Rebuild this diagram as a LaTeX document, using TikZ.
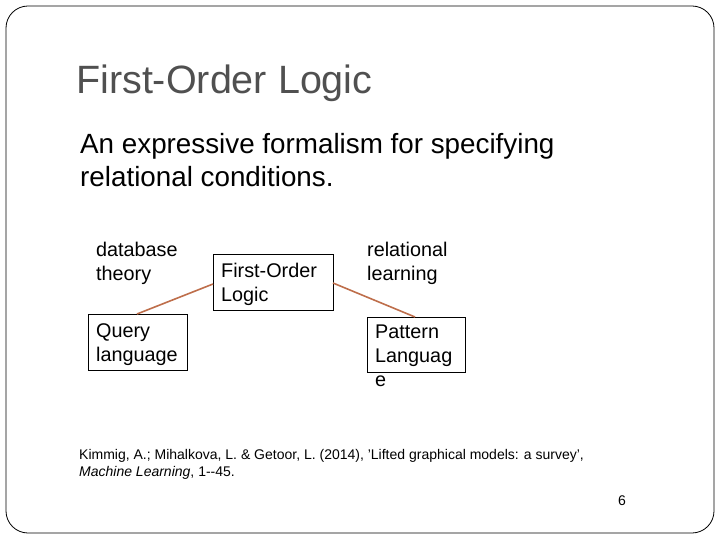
\documentclass[tikz,border=0pt]{standalone}
\usepackage{fontspec}
\setmainfont{Liberation Sans}
\begin{document}
\begin{tikzpicture}[x=1pt,y=-1pt,
  txt/.style={anchor=north west,inner sep=0pt,align=left,font=\fontsize{19.8}{24}\selectfont},
  link/.style={draw={rgb,255:red,190;green,110;blue,75},line width=1.6pt}]
\useasboundingbox (0,0) rectangle (720,540);
\draw[line width=0.8pt,rounded corners=22pt] (6,6) rectangle (714,533);
\node[anchor=west,inner sep=0pt,text={rgb,255:red,80;green,80;blue,80},font=\fontsize{39.5}{44}\selectfont] (title) at (76,83) {First-Order Logic};
\node[txt,font=\fontsize{27.8}{33}\selectfont] (body) at (80,133) {An expressive formalism for specifying\\relational conditions.};
\node[txt] (db) at (96,242) {database\\theory};
\node[txt] (rl) at (367,242) {relational\\learning};
\draw[line width=0.8pt] (213,254) rectangle (333,310);
\node[txt] (fol) at (221,263) {First-Order\\Logic};
\draw[line width=0.8pt] (88,314) rectangle (187,370);
\node[txt] (ql) at (96,323) {Query\\language};
\draw[line width=0.8pt] (367,317) rectangle (465,372);
\node[txt] (pl) at (375,325) {Pattern\\Languag\\e};
\coordinate (a1) at (213,284); \coordinate (a2) at (137,314);
\coordinate (b1) at (333,283); \coordinate (b2) at (415,317);
\draw[link] (a1) -- (a2);
\draw[link] (b1) -- (b2);
\node[txt,font=\fontsize{14}{17}\selectfont] (cite) at (79,449) {Kimmig, A.; Mihalkova, L. \& Getoor, L. (2014), \symbol{39}Lifted graphical models: a survey\symbol{39},\\\textit{Machine Learning}, 1-{}-45.};
\node[anchor=center,inner sep=0pt,font=\fontsize{14}{16}\selectfont] (pg) at (622,501) {6};
\end{tikzpicture}
\end{document}
